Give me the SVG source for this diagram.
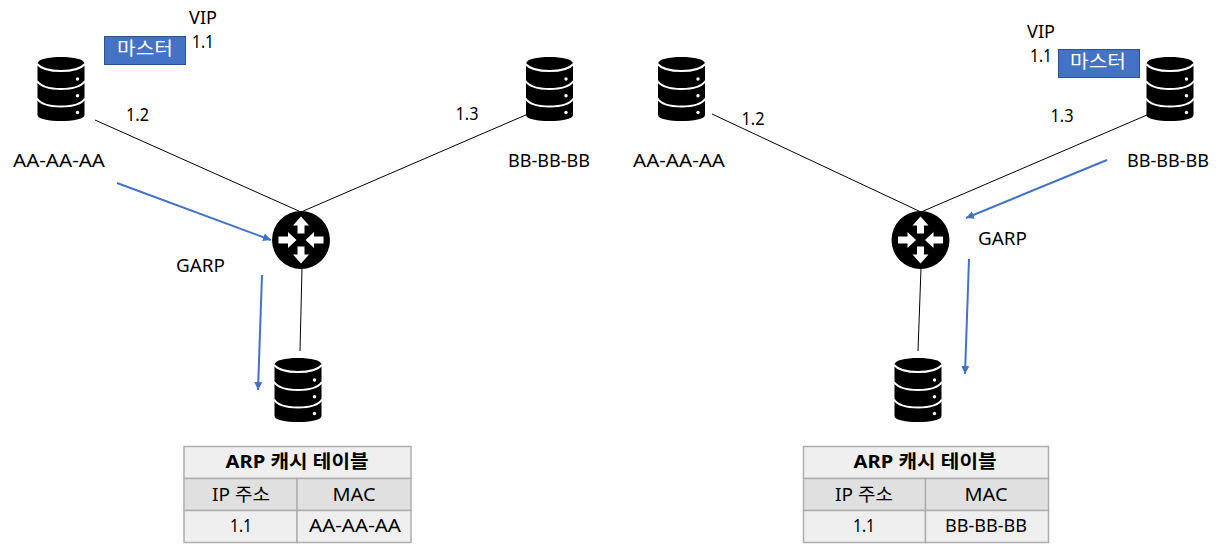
<svg xmlns="http://www.w3.org/2000/svg" width="1221" height="549" viewBox="0 0 1221 549">
<style>
text{font-family:"Noto Sans","Noto Sans CJK KR",sans-serif;font-size:18.500px;fill:#000}
.m{text-anchor:middle}
.b{font-weight:700}
.w{fill:#fff}
.ln{stroke:#000;stroke-width:1;fill:none}
.bl{stroke:#4472c4;stroke-width:2;fill:none;marker-end:url(#ah)}
.box{fill:#4472c4;stroke:#2f528f;stroke-width:1}
.c1{fill:#efefef;stroke:#aeaeae;stroke-width:1.5}
.c2{fill:#e0e0e0;stroke:#aeaeae;stroke-width:1.5}
</style>
<defs>
<marker id="ah" markerUnits="userSpaceOnUse" markerWidth="10" markerHeight="10" refX="8" refY="4" orient="auto"><path d="M0 0L8 4L0 8Z" fill="#4472c4"/></marker>
<symbol id="db" width="47" height="64" viewBox="0 0 47 64" overflow="visible">
<path d="M0 7C0 2 11 0 23.500 0S47 2 47 7V58C47 62 35 64 23.500 64S0 62 0 58Z" fill="#000"/>
<g fill="none" stroke="#fff" stroke-width="2"><path d="M-.5 7C3 11 12 14 23.500 14S44 11 47.500 7"/><path d="M-.5 24C3 29 12 32 23.500 32S44 29 47.500 24"/><path d="M-.5 41.500C3 47 12 49.500 23.500 49.500S44 47 47.500 41.500"/></g>
<circle cx="40" cy="22" r="1.700" fill="#fff"/><circle cx="40" cy="38.700" r="1.700" fill="#fff"/><circle cx="40" cy="55.500" r="1.700" fill="#fff"/>
</symbol>
<symbol id="rt" width="58" height="58" viewBox="-29 -29 58 58" overflow="visible">
<circle r="29" fill="#000"/>
<g fill="#fff"><path d="M-3.500 -6.500H3.500V-14.500H8L0 -23.500L-8 -14.500H-3.500Z"/><path d="M-3.500 6.500H3.500V14.500H8L0 23.500L-8 14.500H-3.500Z"/><path d="M-22.500 -3.500H-13V-8L-4.500 0L-13 8V3.500H-22.500Z"/><path d="M22.500 -3.500H13V-8L4.500 0L13 8V3.500H22.500Z"/></g>
</symbol>
</defs>
<g id="connectors">
<path class="ln" d="M95 120L301 212"/><path class="ln" d="M528 114L301 212"/><path class="ln" d="M302 268L300 351"/>
<path class="ln" d="M712 114L921 212"/><path class="ln" d="M1147 115L921 212"/><path class="ln" d="M921 268L918 351"/>
<path class="bl" d="M117 183L271 240"/><path class="bl" d="M262 275L258 390"/>
<path class="bl" d="M1107 160L966 218"/><path class="bl" d="M969 259L965 374"/>
</g>
<g id="db-a1"><use href="#db" x="37.500" y="57"/><text class="m" x="59" y="167" textLength="92" lengthAdjust="spacingAndGlyphs">AA-AA-AA</text><text class="m" x="137.500" y="121" textLength="23" lengthAdjust="spacingAndGlyphs">1.2</text></g>
<g id="db-b1"><use href="#db" x="526" y="57"/><text class="m" x="549" y="167" textLength="82" lengthAdjust="spacingAndGlyphs">BB-BB-BB</text><text class="m" x="467" y="120" textLength="23" lengthAdjust="spacingAndGlyphs">1.3</text></g>
<g id="master-1"><rect class="box" x="104.500" y="36.500" width="81" height="28"/><text class="m w" x="145" y="55" textLength="56" lengthAdjust="spacingAndGlyphs">마스터</text></g>
<g id="vip-1"><text x="189" y="24" textLength="28" lengthAdjust="spacingAndGlyphs">VIP</text><text x="192" y="48" textLength="22" lengthAdjust="spacingAndGlyphs">1.1</text></g>
<g id="router-1"><use href="#rt" x="272" y="211"/></g>
<text id="garp-1" x="176" y="272" textLength="49" lengthAdjust="spacingAndGlyphs">GARP</text>
<g id="db-c1"><use href="#db" x="274.500" y="358"/></g>
<g id="table-1">
<rect class="c1" x="184" y="446.500" width="227" height="32"/>
<rect class="c2" x="184" y="478.500" width="113" height="32"/><rect class="c2" x="297" y="478.500" width="114" height="32"/>
<rect class="c1" x="184" y="510.500" width="113" height="32"/><rect class="c1" x="297" y="510.500" width="114" height="32"/>
<text class="m b" x="297" y="468" textLength="143" lengthAdjust="spacingAndGlyphs">ARP 캐시 테이블</text><text class="m" x="241" y="501" textLength="58" lengthAdjust="spacingAndGlyphs">IP 주소</text><text class="m" x="354" y="501" textLength="43" lengthAdjust="spacingAndGlyphs">MAC</text><text class="m" x="241" y="532" textLength="22" lengthAdjust="spacingAndGlyphs">1.1</text><text class="m" x="355" y="532" textLength="92" lengthAdjust="spacingAndGlyphs">AA-AA-AA</text>
</g>
<g id="db-a2"><use href="#db" x="658" y="57"/><text class="m" x="679" y="167" textLength="92" lengthAdjust="spacingAndGlyphs">AA-AA-AA</text><text class="m" x="753" y="125" textLength="23" lengthAdjust="spacingAndGlyphs">1.2</text></g>
<g id="db-b2"><use href="#db" x="1146.500" y="57"/><text class="m" x="1168" y="167" textLength="82" lengthAdjust="spacingAndGlyphs">BB-BB-BB</text><text class="m" x="1062" y="122" textLength="23" lengthAdjust="spacingAndGlyphs">1.3</text></g>
<g id="master-2"><rect class="box" x="1058.500" y="49.500" width="81" height="28"/><text class="m w" x="1098" y="68" textLength="56" lengthAdjust="spacingAndGlyphs">마스터</text></g>
<g id="vip-2"><text x="1027" y="38" textLength="28" lengthAdjust="spacingAndGlyphs">VIP</text><text x="1030" y="62" textLength="22" lengthAdjust="spacingAndGlyphs">1.1</text></g>
<g id="router-2"><use href="#rt" x="891.500" y="211"/></g>
<text id="garp-2" x="978" y="245" textLength="49" lengthAdjust="spacingAndGlyphs">GARP</text>
<g id="db-c2"><use href="#db" x="894.500" y="358"/></g>
<g id="table-2">
<rect class="c1" x="803.500" y="446.500" width="245" height="32"/>
<rect class="c2" x="803.500" y="478.500" width="122" height="32"/><rect class="c2" x="925.500" y="478.500" width="123" height="32"/>
<rect class="c1" x="803.500" y="510.500" width="122" height="32"/><rect class="c1" x="925.500" y="510.500" width="123" height="32"/>
<text class="m b" x="925" y="468" textLength="143" lengthAdjust="spacingAndGlyphs">ARP 캐시 테이블</text><text class="m" x="864" y="501" textLength="58" lengthAdjust="spacingAndGlyphs">IP 주소</text><text class="m" x="986" y="501" textLength="43" lengthAdjust="spacingAndGlyphs">MAC</text><text class="m" x="864" y="532" textLength="22" lengthAdjust="spacingAndGlyphs">1.1</text><text class="m" x="986" y="532" textLength="82" lengthAdjust="spacingAndGlyphs">BB-BB-BB</text>
</g>
</svg>
